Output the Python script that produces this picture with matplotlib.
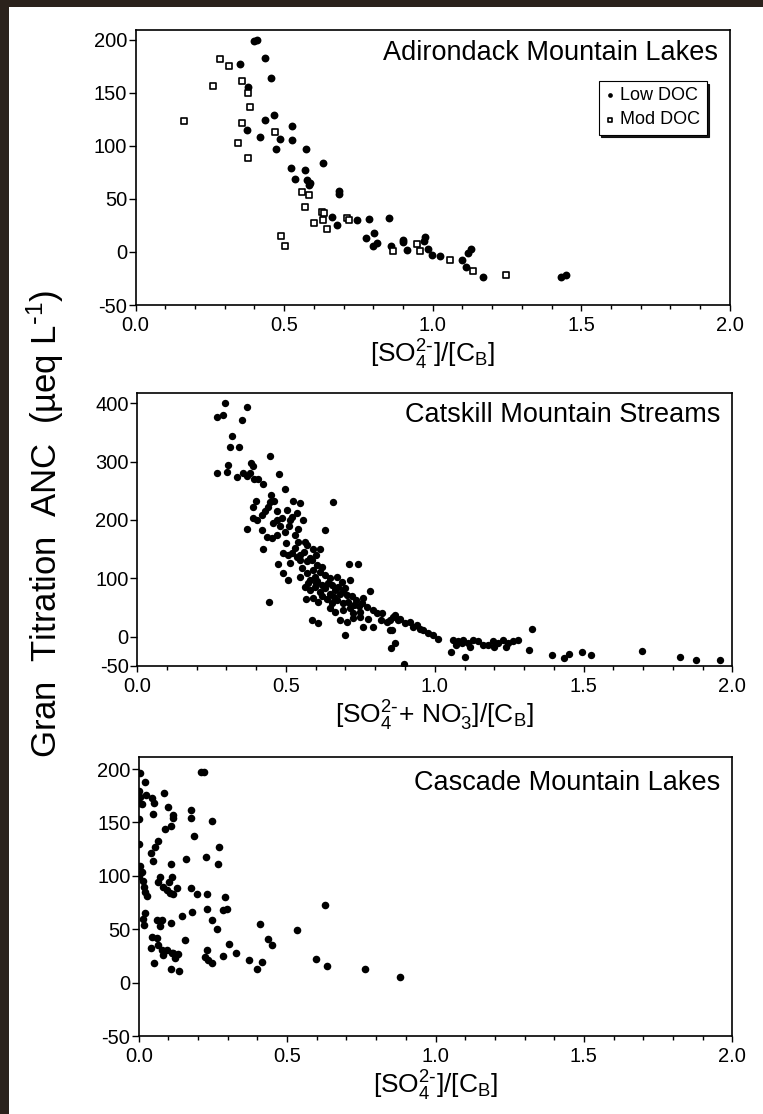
import matplotlib
matplotlib.use("Agg")
import matplotlib.pyplot as plt
from matplotlib.patches import Rectangle
from matplotlib.ticker import MultipleLocator, FixedLocator, FormatStrFormatter

plt.rcParams['font.family'] = ['Liberation Sans', 'DejaVu Sans']
plt.rcParams['mathtext.default'] = 'regular'
plt.rcParams['axes.unicode_minus'] = False

# --- Adirondack Mountain Lakes ---
adk_low_x = [0.40, 0.41, 0.352, 0.435, 0.457, 0.38, 0.466, 0.435, 0.375, 0.42,
             0.527, 0.486, 0.527, 0.473, 0.573, 0.63, 0.524, 0.57, 0.537, 0.576,
             0.586, 0.583, 0.686, 0.686, 0.66, 0.677, 0.784, 0.854, 0.746, 0.777,
             0.804, 0.80, 0.813, 0.861, 0.90, 0.90, 0.912, 0.975, 0.97, 0.984,
             0.997, 1.026, 1.10, 1.12, 1.128, 1.113, 1.17, 1.432, 1.448]
adk_low_y = [199, 200, 177, 183, 164, 155, 129, 124, 115, 108,
             119, 106, 105, 97, 97, 84, 79, 77, 69, 68,
             65, 63, 57, 55, 33, 25, 31, 32, 30, 13,
             18, 6, 8, 6, 11, 9, 2, 14, 10, 3,
             -3, -4, -8, -1, 3, -14, -24, -24, -22]
adk_mod_x = [0.164, 0.26, 0.283, 0.313, 0.358, 0.38, 0.386, 0.358, 0.344, 0.38,
             0.471, 0.488, 0.504, 0.561, 0.584, 0.57, 0.628, 0.635, 0.602, 0.63,
             0.646, 0.71, 0.72, 0.867, 0.948, 0.956, 1.059, 1.136, 1.247]
adk_mod_y = [123, 156, 182, 175, 161, 150, 136, 121, 103, 88,
             113, 15, 6, 56, 54, 42, 38, 37, 27, 30,
             22, 32, 30, 1, 7, 1, -8, -18, -22]

# --- Catskill Mountain Streams ---
cat_x = [0.269, 0.289, 0.296, 0.368, 0.352, 0.318,
         0.312, 0.343, 0.446, 0.306, 0.303, 0.269, 0.381, 0.39, 0.334, 0.357,
         0.368, 0.379, 0.392, 0.407, 0.424, 0.476, 0.498, 0.659,
         0.399, 0.39, 0.446, 0.441, 0.388, 0.401, 0.418,
         0.469, 0.502, 0.525, 0.547, 0.469, 0.485, 0.513, 0.536, 0.558,
         0.37, 0.418, 0.435, 0.452, 0.469, 0.497, 0.53, 0.63,
         0.541, 0.564, 0.569, 0.592, 0.614, 0.422,
         0.491, 0.508, 0.519, 0.536, 0.547, 0.474,
         0.513, 0.547, 0.569, 0.586, 0.603, 0.62, 0.713, 0.743,
         0.491, 0.508,
         0.547, 0.569, 0.58, 0.597, 0.614, 0.631, 0.648, 0.67, 0.687, 0.715,
         0.564, 0.58, 0.597, 0.614, 0.631, 0.648, 0.665, 0.681, 0.704,
         0.567, 0.592, 0.609, 0.637, 0.653, 0.67, 0.693, 0.721, 0.737, 0.76, 0.782,
         0.443,
         0.648, 0.665, 0.693, 0.715, 0.726, 0.749, 0.771, 0.793,
         0.681, 0.704, 0.726, 0.749, 0.777, 0.805, 0.821, 0.838, 0.861, 0.877,
         0.586, 0.609, 0.698, 0.76, 0.793, 0.855,
         0.575, 0.59, 0.605, 0.62, 0.64, 0.655, 0.66, 0.675, 0.69, 0.70,
         0.71, 0.73, 0.745, 0.755, 0.62, 0.60, 0.555, 0.58, 0.60, 0.56,
         0.53, 0.50, 0.48, 0.455, 0.43, 0.51, 0.52, 0.54, 0.46, 0.45,
         0.822, 0.85, 0.866, 0.883, 0.90, 0.917, 0.928, 0.939, 0.95, 0.962,
         0.978, 0.995, 1.012, 0.85, 0.854, 0.868, 0.896,
         1.062, 1.079, 1.096, 1.113, 1.13, 1.146, 1.163, 1.197, 1.214, 1.23,
         1.247, 1.264, 1.281, 1.326,
         1.318, 1.056, 1.10, 1.395, 1.436, 1.452, 1.496, 1.525, 1.697, 1.824,
         1.878, 1.959, 1.07, 1.12, 1.18, 1.24, 1.09, 1.20]
cat_y = [377, 380, 400, 393, 372, 344,
         325, 325, 309, 294, 283, 281, 298, 293, 274, 280,
         275, 280, 271, 270, 262, 279, 253, 230,
         233, 223, 231, 223, 203, 200, 209,
         216, 217, 232, 229, 200, 203, 200, 212, 200,
         184, 182, 171, 169, 174, 180, 174, 182,
         163, 163, 157, 151, 151, 151,
         143, 140, 143, 137, 140, 125,
         126, 131, 129, 131, 123, 120, 125, 125,
         109, 97,
         103, 109, 97, 103, 111, 106, 100, 103, 94, 98,
         86, 80, 86, 77, 83, 74, 80, 74, 71,
         64, 66, 60, 64, 57, 63, 57, 69, 63, 66, 79,
         60,
         49, 43, 46, 49, 40, 43, 51, 46,
         29, 26, 32, 34, 31, 40, 29, 26, 34, 29,
         29, 24, 3, 17, 17, 11,
         92, 115, 95, 88, 92, 88, 68, 86, 78, 84,
         60, 55, 52, 58, 70, 92, 118, 135, 140, 145,
         152, 160, 190, 195, 215, 190, 205, 185, 233, 242,
         40, 29, 37, 31, 23, 26, 17, 20, 14, 11,
         6, 3, -3, 11, -20, -10, -46,
         -6, -8, -6, -11, -6, -8, -14, -8, -11, -6,
         -11, -8, -6, 14,
         -23, -26, -35, -31, -37, -30, -26, -31, -25, -35,
         -39, -39, -14, -17, -14, -17, -11, -17]

# --- Cascade Mountain Lakes ---
cas_x = [0.004, 0.021, 0.21, 0.22, 0.0, 0.004, 0.0, 0.01, 0.025, 0.044,
         0.052, 0.047, 0.085, 0.098, 0.117, 0.117, 0.108, 0.089, 0.175, 0.175,
         0.247, 0.002, 0.185, 0.066, 0.055, 0.04, 0.047, 0.27, 0.002, 0.108,
         0.159, 0.227, 0.267,
         0.004, 0.01, 0.002, 0.013, 0.018, 0.021, 0.027,
         0.072, 0.066, 0.083, 0.094, 0.105, 0.111, 0.103, 0.128, 0.117,
         0.175, 0.195, 0.231, 0.292, 0.299, 0.283, 0.231, 0.18, 0.147, 0.246, 0.263,
         0.021, 0.016, 0.018, 0.061, 0.077, 0.072, 0.108,
         0.044, 0.061, 0.04, 0.066, 0.077, 0.083, 0.094, 0.111, 0.122, 0.117,
         0.134, 0.052,
         0.108, 0.137, 0.156, 0.303, 0.231, 0.223, 0.234, 0.246, 0.283, 0.328,
         0.373, 0.409, 0.437, 0.448, 0.416, 0.40, 0.532, 0.627, 0.596, 0.636,
         0.762, 0.88]
cas_y = [196, 188, 197, 197, 179, 174, 168, 167, 176, 173,
         168, 158, 178, 164, 157, 154, 147, 144, 162, 154,
         151, 153, 137, 133, 127, 121, 114, 127, 130, 111,
         116, 118, 111,
         109, 104, 100, 95, 90, 85, 81,
         99, 94, 90, 87, 84, 99, 94, 89, 83,
         89, 83, 83, 80, 69, 68, 69, 66, 62, 59, 50,
         65, 60, 54, 59, 59, 53, 56,
         43, 42, 32, 35, 31, 26, 31, 28, 23, 28,
         27, 18,
         13, 11, 40, 36, 31, 24, 21, 18, 25, 28,
         21, 55, 41, 35, 19, 13, 49, 73, 22, 16,
         13, 5]

ticks_50 = [-50, 0, 50, 100, 150, 200]
ticks_100 = [-50, 0, 100, 200, 300, 400]

fig = plt.figure(figsize=(7.63, 11.14), dpi=100, facecolor='#2b221c')
fig.patches.append(Rectangle((9 / 763, 0), 1, 1 - 7 / 1114, transform=fig.transFigure,
                             facecolor='white', edgecolor='none', zorder=-1))

ax1 = fig.add_axes([0.1776, 0.7262, 0.779, 0.2469])
ax2 = fig.add_axes([0.1798, 0.4022, 0.780, 0.2453])
ax3 = fig.add_axes([0.1818, 0.070, 0.778, 0.2502])


def style(ax, ymax, yticks):
    ax.set_xlim(0, 2)
    ax.set_ylim(-50, ymax)
    ax.xaxis.set_major_locator(MultipleLocator(0.5))
    ax.xaxis.set_minor_locator(MultipleLocator(0.1))
    ax.xaxis.set_major_formatter(FormatStrFormatter('%.1f'))
    ax.yaxis.set_major_locator(FixedLocator(yticks))
    ax.tick_params(axis='x', which='major', direction='out', length=4, width=1,
                   labelsize=14.5, pad=4)
    ax.tick_params(axis='x', which='minor', direction='out', length=3, width=1)
    ax.tick_params(axis='y', direction='out', length=5, width=1, labelsize=14.5, pad=1)
    for s in ax.spines.values():
        s.set_linewidth(1.2)


style(ax1, 209, ticks_50)
style(ax2, 418, ticks_100)
style(ax3, 211, ticks_50)

ax1.scatter(adk_low_x, adk_low_y, s=32, c='black', marker='o', linewidths=0, label='Low DOC')
ax1.scatter(adk_mod_x, adk_mod_y, s=24, marker='s', facecolors='white', edgecolors='black',
            linewidths=1.2, label='Mod DOC')
ax2.scatter(cat_x, cat_y, s=28, c='black', marker='o', linewidths=0)
ax3.scatter(cas_x, cas_y, s=30, c='black', marker='o', linewidths=0)

leg = ax1.legend(loc='upper right', bbox_to_anchor=(0.961, 0.815), fontsize=13,
                 frameon=True, fancybox=False, shadow={'color': 'black', 'alpha': 0.9},
                 edgecolor='black', handlelength=0.5, handletextpad=0.35, borderpad=0.35,
                 labelspacing=0.4, borderaxespad=0, markerscale=0.6)
leg.get_frame().set_linewidth(0.8)

ax1.text(0.98, 0.965, 'Adirondack Mountain Lakes', transform=ax1.transAxes,
         ha='right', va='top', fontsize=19.5)
ax2.text(0.98, 0.965, 'Catskill Mountain Streams', transform=ax2.transAxes,
         ha='right', va='top', fontsize=19.5)
ax3.text(0.98, 0.955, 'Cascade Mountain Lakes', transform=ax3.transAxes,
         ha='right', va='top', fontsize=19.5)

ax1.set_xlabel(r'[SO$_4^{2\text{-}}$]/[C$_B$]', fontsize=19, labelpad=2)
ax2.set_xlabel(r'[SO$_4^{2\text{-}}$+ NO$_3^{\text{-}}$]/[C$_B$]', fontsize=19, labelpad=2)
ax3.set_xlabel(r'[SO$_4^{2\text{-}}$]/[C$_B$]', fontsize=19, labelpad=2)

fig.text(0.059, 0.53, 'Gran  Titration  ANC  (µeq L$^{\\text{-}1}$)', rotation=90,
         fontsize=25, ha='center', va='center')

fig.savefig('out.png', dpi=100, facecolor=fig.get_facecolor())
